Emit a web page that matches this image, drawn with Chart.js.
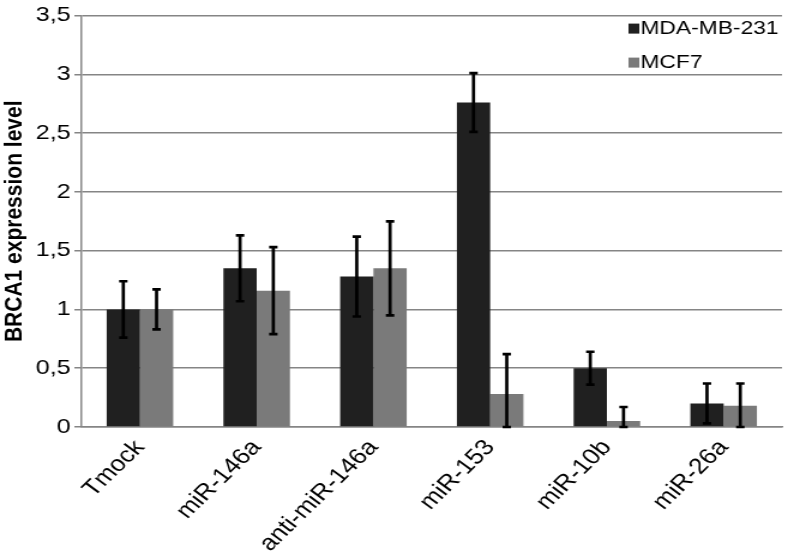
<!DOCTYPE html>
<html>
<head>
<meta charset="utf-8">
<script src="https://cdn.jsdelivr.net/npm/chart.js@4.4.1/dist/chart.umd.min.js"></script>
<style>
  html, body { margin: 0; padding: 0; background: #ffffff; }
  #c { display: block; }
</style>
</head>
<body>
<canvas id="c" width="657" height="551" style="width:788px;height:551px"></canvas>
<script>
const categories = ['Tmock', 'miR-146a', 'anti-miR-146a', 'miR-153', 'miR-10b', 'miR-26a'];
const seriesLabels = ['MDA-MB-231', 'MCF7'];
const mdaValues  = [1.00, 1.35, 1.28, 2.76, 0.50, 0.20];
const mdaErrors  = [0.24, 0.28, 0.34, 0.25, 0.14, 0.17];
const mcf7Values = [1.00, 1.16, 1.35, 0.28, 0.05, 0.18];
const mcf7Errors = [0.17, 0.37, 0.40, 0.34, 0.12, 0.19];
const yTickLabels = ['0', '0,5', '1', '1,5', '2', '2,5', '3', '3,5'];
const yTitle = 'BRCA1 expression level';

const FONT = "'Liberation Sans', Arial, sans-serif";
Chart.defaults.font.family = FONT;
Chart.defaults.color = '#000000';

const errorBarPlugin = {
  id: 'errorBars',
  afterDatasetsDraw(chart) {
    const ctx = chart.ctx;
    const yScale = chart.scales.y;
    ctx.save();
    ctx.strokeStyle = '#000000';
    ctx.lineWidth = 2.7;
    ctx.lineCap = 'butt';
    chart.data.datasets.forEach((ds, di) => {
      const meta = chart.getDatasetMeta(di);
      meta.data.forEach((bar, i) => {
        const v = ds.data[i];
        const e = ds.errors[i];
        const yTop = yScale.getPixelForValue(v + e);
        const yBot = yScale.getPixelForValue(Math.max(0, v - e));
        const x = bar.x;
        const cap = 3.5;
        ctx.beginPath();
        ctx.moveTo(x, yTop); ctx.lineTo(x, yBot);
        ctx.moveTo(x - cap, yTop); ctx.lineTo(x + cap, yTop);
        ctx.moveTo(x - cap, yBot); ctx.lineTo(x + cap, yBot);
        ctx.stroke();
      });
    });
    ctx.restore();
  }
};

const legendPlugin = {
  id: 'insideLegend',
  afterDraw(chart) {
    const ctx = chart.ctx;
    const area = chart.chartArea;
    ctx.save();
    ctx.font = '19px ' + FONT;
    ctx.textBaseline = 'alphabetic';
    ctx.textAlign = 'left';
    chart.data.datasets.forEach((ds, di) => {
      const sx = area.right - 128;
      const baseY = area.top + 18 + di * 34;
      ctx.fillStyle = ds.backgroundColor;
      ctx.fillRect(sx, baseY - 10, 9, 10);
      ctx.fillStyle = '#000000';
      ctx.fillText(ds.label, sx + 10, baseY);
    });
    ctx.restore();
  }
};

new Chart(document.getElementById('c'), {
  type: 'bar',
  data: {
    labels: categories,
    datasets: [
      { label: seriesLabels[0], data: mdaValues, errors: mdaErrors, backgroundColor: '#202020', borderWidth: 0 },
      { label: seriesLabels[1], data: mcf7Values, errors: mcf7Errors, backgroundColor: '#7a7a7a', borderWidth: 0 }
    ]
  },
  options: {
    responsive: false,
    animation: false,
    devicePixelRatio: 1,
    layout: { padding: { top: 10, right: 5, left: 0, bottom: 0 } },
    datasets: { bar: { categoryPercentage: 0.57, barPercentage: 1.0 } },
    plugins: {
      legend: { display: false },
      tooltip: { enabled: false },
      title: { display: false }
    },
    scales: {
      x: {
        grid: { display: false, drawTicks: false },
        border: { display: true, color: '#858585', width: 1.5 },
        ticks: {
          autoSkip: false,
          minRotation: 49,
          maxRotation: 49,
          padding: 8,
          color: '#000000',
          font: { size: 22, family: FONT }
        },
        afterFit(scale) { scale.height = 124; }
      },
      y: {
        min: 0,
        max: 3.5,
        ticks: {
          stepSize: 0.5,
          padding: 3,
          color: '#000000',
          font: { size: 21, family: FONT },
          callback: (value, index) => yTickLabels[index]
        },
        grid: { color: '#858585', lineWidth: 1.5, drawTicks: true, tickLength: 6 },
        border: { display: true, color: '#858585', width: 1.5 },
        title: {
          display: true,
          text: yTitle,
          color: '#000000',
          font: { size: 21, weight: 'bold', family: FONT },
          padding: 0
        },
        afterFit(scale) { scale.width = 68; }
      }
    }
  },
  plugins: [errorBarPlugin, legendPlugin]
});
</script>
</body>
</html>
